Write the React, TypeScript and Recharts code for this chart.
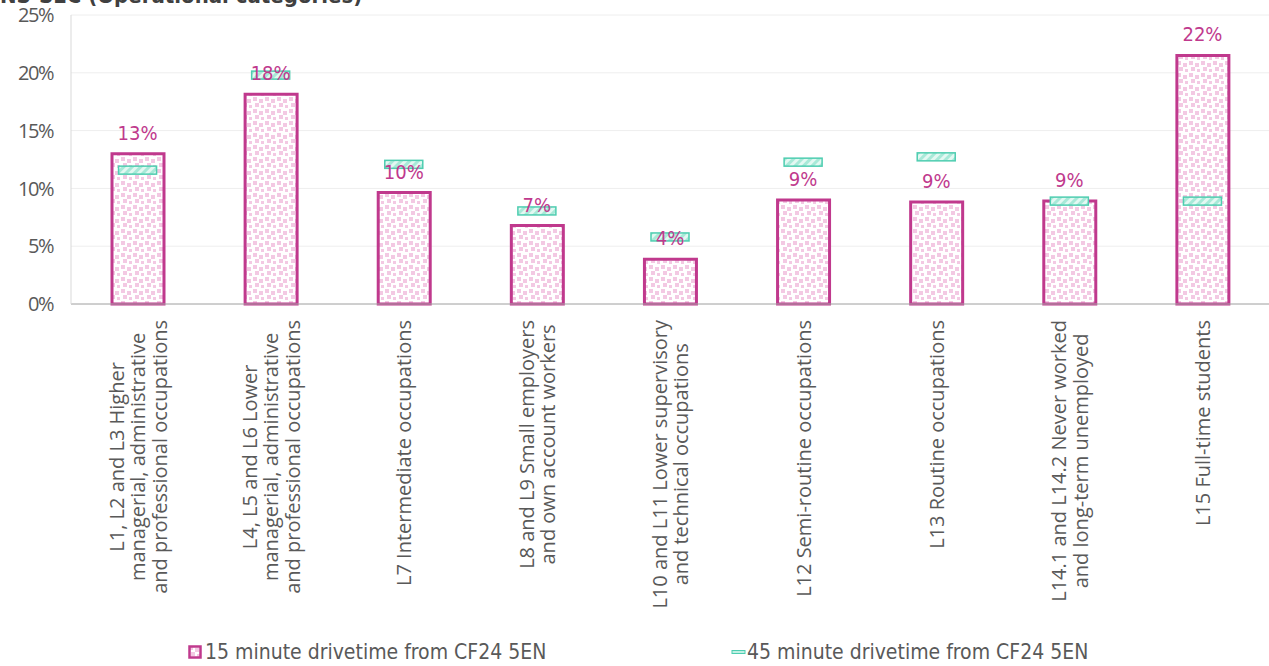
import React from 'react';
import {
  ComposedChart,
  Bar,
  Scatter,
  Line,
  XAxis,
  YAxis,
  CartesianGrid,
  Legend,
  LabelList,
} from 'recharts';

const categories = [
  'L1, L2 and L3 Higher\nmanagerial, administrative\nand professional occupations',
  'L4, L5 and L6 Lower\nmanagerial, administrative\nand professional occupations',
  'L7 Intermediate occupations',
  'L8 and L9 Small employers\nand own account workers',
  'L10 and L11 Lower supervisory\nand technical occupations',
  'L12 Semi-routine occupations',
  'L13 Routine occupations',
  'L14.1 and L14.2 Never worked\nand long-term unemployed',
  'L15 Full-time students',
];

const drive15 = [13.0, 18.15, 9.64, 6.78, 3.87, 9.0, 8.83, 8.9, 21.5];
const drive45 = [11.58, 19.8, 12.08, 8.05, 5.8, 12.27, 12.73, 8.9, 8.9];

const yTicks = [0, 5, 10, 15, 20, 25];

const series15 = '15 minute drivetime from CF24 5EN';
const series45 = '45 minute drivetime from CF24 5EN';

const data = categories.map((name, i) => ({
  name,
  d15: drive15[i],
  d45: drive45[i],
}));

const MAGENTA = '#C0398D';
const TEAL = '#4ECDB0';
const GREY = '#595959';
const LABEL_FONT = '"Open Sans", sans-serif';
const NARROW_FONT = '"DejaVu Sans Condensed", sans-serif';
const LABEL_SIZE = 20;

let ctx: CanvasRenderingContext2D | null = null;
const textWidth = (s: string) => {
  if (!ctx) ctx = document.createElement('canvas').getContext('2d');
  if (!ctx) return s.length * LABEL_SIZE * 0.5;
  ctx.font = `${LABEL_SIZE}px "Open Sans"`;
  return ctx.measureText(s).width;
};

// rotated, multi-line category label; lines centred on the longest one
const CategoryTick = (props: any) => {
  const { x, y, payload } = props;
  const lines: string[] = String(payload.value).split('\n');
  const w = Math.max(...lines.map(textWidth));
  const c = y + 14 + w / 2;
  const gap = 21.5;
  return (
    <g>
      {lines.map((line, i) => {
        const lx = x + (i - (lines.length - 1) / 2) * gap;
        return (
          <text
            key={i}
            x={lx}
            y={c}
            transform={`rotate(-90 ${lx} ${c})`}
            textAnchor="middle"
            dominantBaseline="central"
            fill={GREY}
            fontFamily={LABEL_FONT}
            fontSize={LABEL_SIZE}
          >
            {line}
          </text>
        );
      })}
    </g>
  );
};

const Marker45 = (props: any) => {
  const { cx, cy } = props;
  if (cx == null || cy == null) return null;
  return (
    <rect
      x={cx - 19}
      y={cy - 4}
      width={38}
      height={8}
      fill="url(#tealHatch)"
      stroke={TEAL}
      strokeWidth={1.5}
    />
  );
};

const LegendBox = () => (
  <div style={{ position: 'relative', height: 40, fontFamily: NARROW_FONT, fontSize: 21, color: GREY }}>
    <div style={{ position: 'absolute', left: 188, top: 14, display: 'flex', alignItems: 'center' }}>
      <svg width={14} height={14} style={{ marginRight: 3 }}>
        <rect x={1.5} y={1.5} width={11} height={11} fill="url(#pinkDots)" stroke={MAGENTA} strokeWidth={2.5} />
      </svg>
      <span>{series15}</span>
    </div>
    <div style={{ position: 'absolute', left: 731, top: 14, display: 'flex', alignItems: 'center' }}>
      <svg width={15} height={14} style={{ marginRight: 1 }}>
        <rect x={1} y={5.5} width={13} height={3} fill="#bff0e3" stroke={TEAL} strokeWidth={1} />
      </svg>
      <span>{series45}</span>
    </div>
  </div>
);

const App: React.FC = () => (
  <div style={{ position: 'absolute', left: 0, top: 0, width: 1269, height: 666, overflow: 'hidden', background: '#fff' }}>
    <svg width={0} height={0} style={{ position: 'absolute' }}>
      <defs>
        <pattern id="pinkDots" width="12" height="12" patternUnits="userSpaceOnUse">
          <rect width="12" height="12" fill="#fff" />
          <rect x="1" y="1" width="4" height="4" fill="#F3C9E3" />
          <rect x="7" y="3" width="4" height="4" fill="#F3C9E3" />
          <rect x="3" y="7" width="4" height="4" fill="#F3C9E3" />
          <rect x="9" y="9" width="3" height="3" fill="#F3C9E3" />
        </pattern>
        <pattern id="tealHatch" width="6" height="6" patternUnits="userSpaceOnUse" patternTransform="rotate(45)">
          <rect width="6" height="6" fill="#e3f8f2" />
          <rect width="3" height="6" fill="#a8e9d8" />
        </pattern>
      </defs>
    </svg>
    <div
      style={{
        position: 'absolute',
        left: 0,
        top: -17,
        fontFamily: NARROW_FONT,
        fontWeight: 'bold',
        fontSize: 22,
        color: '#404040',
        whiteSpace: 'nowrap',
      }}
    >
      NS-SEC (Operational categories)
    </div>
    <ComposedChart
      width={1269}
      height={666}
      data={data}
      margin={{ top: 15, right: 0, left: 0, bottom: 0 }}
    >
      <CartesianGrid vertical={false} stroke="#EEEEEE" />
      <XAxis
        dataKey="name"
        interval={0}
        tickLine={false}
        tickSize={0}
        height={322}
        tick={<CategoryTick />}
        stroke="#A6A6A6"
      />
      <YAxis
        domain={[0, 25]}
        ticks={yTicks}
        width={71}
        tickLine={false}
        tickSize={0}
        tickMargin={18}
        stroke="#D9D9D9"
        tickFormatter={(v: number) => `${v}%`}
        tick={{ fill: GREY, fontFamily: LABEL_FONT, fontSize: 20, letterSpacing: -1.5 }}
      />
      <Legend verticalAlign="bottom" content={<LegendBox />} />
      <Bar
        dataKey="d15"
        name={series15}
        barSize={52}
        fill="url(#pinkDots)"
        stroke={MAGENTA}
        strokeWidth={3}
        isAnimationActive={false}
      />
      <Scatter
        dataKey="d45"
        name={series45}
        shape={<Marker45 />}
        isAnimationActive={false}
      />
      <Line
        dataKey="d15"
        stroke="none"
        dot={false}
        activeDot={false}
        legendType="none"
        isAnimationActive={false}
      >
        <LabelList
          dataKey="d15"
          position="top"
          offset={14}
          formatter={(v: any) => `${Math.round(Number(v))}%`}
          fill={MAGENTA}
          fontFamily={NARROW_FONT}
          fontSize={20}
        />
      </Line>
    </ComposedChart>
  </div>
);

export default App;
